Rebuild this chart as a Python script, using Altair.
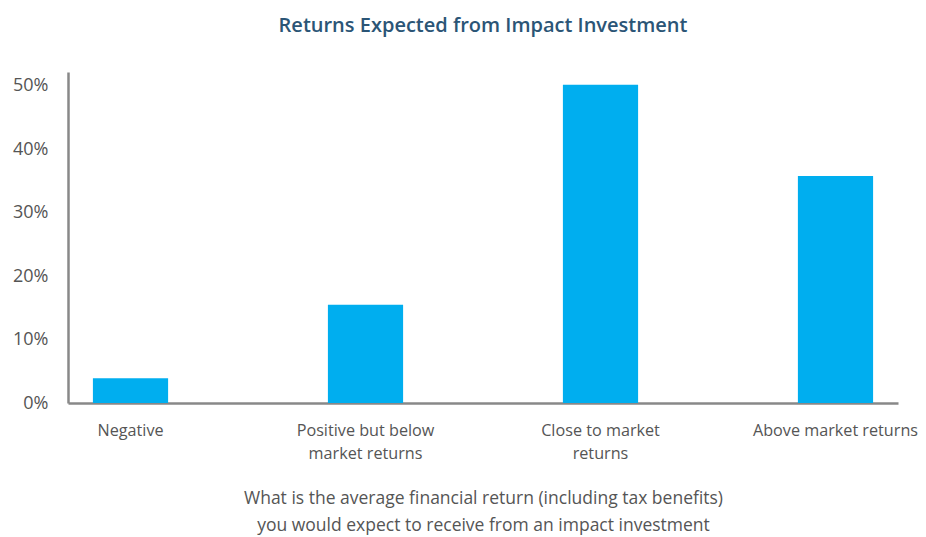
import altair as alt
import pandas as pd

categories = ["Negative", "Positive but below\nmarket returns", "Close to market\nreturns", "Above market returns"]
values = [0.039, 0.155, 0.502, 0.358]
y_ticks = [0, 0.1, 0.2, 0.3, 0.4, 0.5]

df = pd.DataFrame({"category": categories, "value": values})

FONT = "Open Sans"

chart = alt.Chart(df).mark_bar(color="#00AEEF").encode(
    x=alt.X("category:N", sort=categories,
            scale=alt.Scale(paddingInner=0.68, paddingOuter=0.106),
            axis=alt.Axis(title=["What is the average financial return (including tax benefits)",
                                 "you would expect to receive from an impact investment"],
                          labelAngle=0, labelExpr="split(datum.label, '\\n')",
                          labelFontSize=16.2, labelColor="#555555", labelFont=FONT,
                          labelLineHeight=23, labelPadding=19, ticks=False,
                          domainColor="#888888", domainWidth=2.5,
                          titleFont=FONT, titleFontSize=17.5, titleFontWeight="normal",
                          titleColor="#555555", titleLineHeight=27, titlePadding=28)),
    y=alt.Y("value:Q", scale=alt.Scale(domain=[0, 0.522], nice=False),
            axis=alt.Axis(values=y_ticks, format=".0%", title=None, grid=False, ticks=False,
                          labelFontSize=18, labelColor="#555555", labelFont=FONT,
                          labelPadding=20, domainColor="#888888", domainWidth=2.5)),
).properties(
    width=830, height=331,
    title=alt.TitleParams("Returns Expected from Impact Investment", anchor="middle",
                          font=FONT, fontSize=20, fontWeight=600, color="#2B5576", offset=36),
    autosize=alt.AutoSizeParams(type="none"),
    padding={"left": 60, "top": 64, "right": 20, "bottom": 134},
).configure_view(stroke=None)

chart.save("out.html", embed_options={"renderer": "svg", "actions": False})
